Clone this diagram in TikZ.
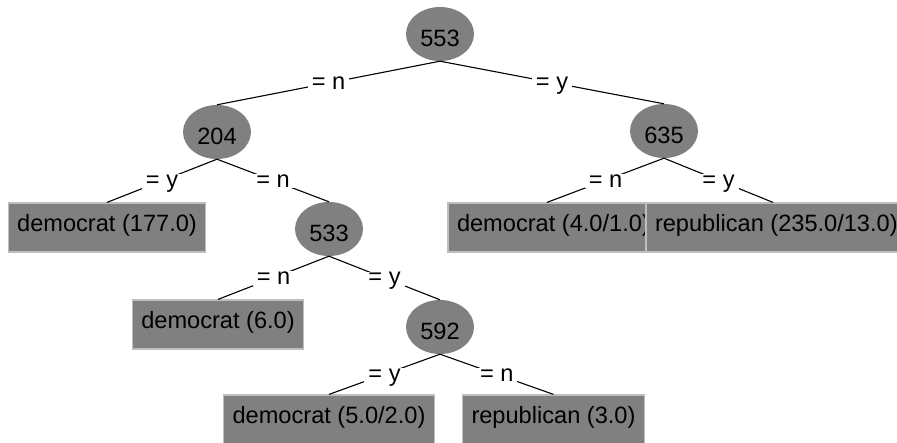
\documentclass[tikz,border=0pt]{standalone}
\usepackage{fontspec}
\setmainfont{Liberation Sans}
\usetikzlibrary{shapes.geometric}
\definecolor{nodegray}{RGB}{128,128,128}
\definecolor{rimgray}{RGB}{190,190,190}
\begin{document}
\begin{tikzpicture}[x=1pt,y=-1pt,
  treefont/.style={font=\fontsize{23.6pt}{28pt}\selectfont},
  split/.style={ellipse, treefont, fill=nodegray, minimum width=68pt,
    minimum height=54pt, inner sep=0pt, text height=25pt, text depth=0pt},
  leaf/.style={rectangle, treefont, fill=nodegray, draw=rimgray,
    line width=1.2pt, inner xsep=9pt, inner ysep=0pt,
    text height=29pt, text depth=20pt},
  branch/.style={draw=black, line width=1.1pt},
  cond/.style={treefont, fill=white, inner xsep=4pt, inner ysep=1pt,
    anchor=base, yshift=-7pt},
]
\useasboundingbox (0,0) rectangle (897,443);
\clip (0,0) rectangle (897,443);

% attribute tests
\node[split] (n553) at (440,34)  {553};
\node[split] (n204) at (217,132) {204};
\node[split] (n635) at (664,131) {635};
\node[split] (n533) at (329,229) {533};
\node[split] (n592) at (440,327) {592};

% class leaves
\node[leaf] (l177) at (107,227.5) {democrat (177.0)};
\node[leaf] (l4)   at (547,227.5) {\makebox[180pt][l]{democrat (4.0/1.0)}};
\node[leaf] (l235) at (773,227.5) {\makebox[236pt][l]{republican (235.0/13.0)}};
\node[leaf] (l6)   at (218,324.5) {democrat (6.0)};
\node[leaf] (l5)   at (329,419.5) {democrat (5.0/2.0)};
\node[leaf] (l3)   at (553.5,419.5) {republican (3.0)};

% branches with their test values
\draw[branch] (n553.south) -- node[cond]{= n} (n204.north);
\draw[branch] (n553.south) -- node[cond]{= y} (n635.north);
\draw[branch] (n204.south) -- node[cond]{= y} (l177.north);
\draw[branch] (n204.south) -- node[cond]{= n} (n533.north);
\draw[branch] (n635.south) -- node[cond]{= n} (l4.north);
\draw[branch] (n635.south) -- node[cond]{= y} (l235.north);
\draw[branch] (n533.south) -- node[cond]{= n} (l6.north);
\draw[branch] (n533.south) -- node[cond]{= y} (n592.north);
\draw[branch] (n592.south) -- node[cond]{= y} (l5.north);
\draw[branch] (n592.south) -- node[cond]{= n} (l3.north);
\end{tikzpicture}
\end{document}
